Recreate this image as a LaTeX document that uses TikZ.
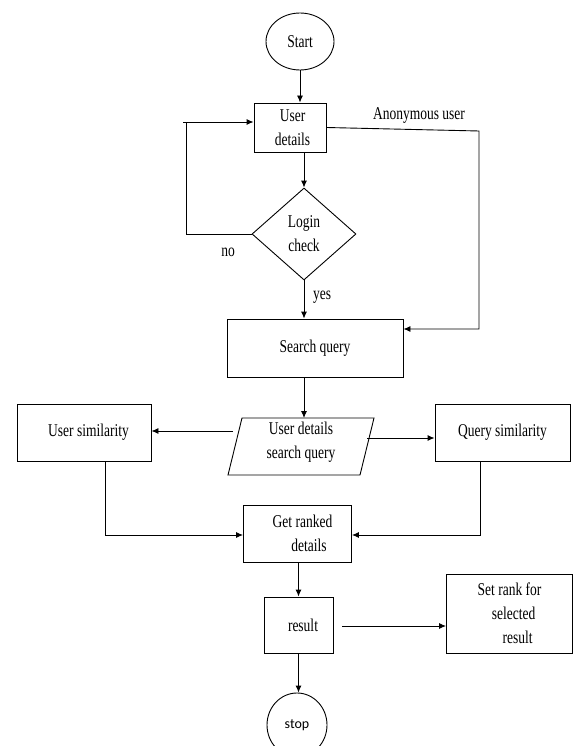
\documentclass[tikz,border=0pt]{standalone}
\usepackage{fontspec}
\setmainfont[FakeStretch=0.75]{Liberation Serif}
\newfontfamily\stopfont{Carlito}
\usetikzlibrary{arrows.meta,shapes.geometric}
\begin{document}
\begin{tikzpicture}[x=1pt,y=-1pt,
  every node/.style={font=\fontsize{18}{24}\selectfont},
  box/.style={draw, rectangle, line width=0.9pt, inner sep=0pt, align=center},
  oval/.style={draw, ellipse, line width=0.9pt, inner sep=0pt},
  line/.style={line width=0.9pt},
  arr/.style={line width=0.9pt, -{Latex[length=7pt,width=6pt]}}]
\useasboundingbox (0,0) rectangle (574,746);

% nodes
\node[oval, minimum width=68, minimum height=57] (start) at (300,41.5) {Start};
\node[box, minimum width=72, minimum height=49] (ud) at (290,127.5) {\hspace*{5pt}User\\\hspace*{5pt}details};
\node[draw, diamond, minimum width=104, minimum height=92, inner sep=0pt, line width=0.9pt, align=center] (login) at (304,234) {Login\\check};
\node[box, minimum width=176, minimum height=58] (search) at (315,348) {Search query};

\coordinate (p1) at (242,418);
\coordinate (p2) at (374,418);
\coordinate (p3) at (360,475);
\coordinate (p4) at (228,475);
\draw[line] (p1) -- (p2) -- (p3) -- (p4) -- cycle;
\node[align=center, inner sep=0pt] (par) at (301,442.5) {User details\\search query};

\node[box, minimum width=134, minimum height=57] (usim) at (84,432.5) {\hspace*{9pt}User similarity};
\node[box, minimum width=135, minimum height=57] (qsim) at (502.5,432.5) {Query similarity};
\node[box, minimum width=108, minimum height=57] (gr) at (297.5,533.5) {\hspace*{10pt}Get ranked\\\hspace*{23pt}details};
\node[box, minimum width=69, minimum height=56] (res) at (298.5,625) {\hspace*{9pt}result};
\node[box, minimum width=126, minimum height=79] (sr) at (509.5,613.5) {Set rank for\\\hspace*{8pt}selected\\\hspace*{16pt}result};
\node[oval, minimum width=60, minimum height=64, font=\stopfont\fontsize{14}{16}\selectfont] (stop) at (297,725) {\raisebox{1pt}{stop}};

% labels
\node (anon) at (419,116) {Anonymous user};
\node (no) at (228,252) {no};
\node (yes) at (322,297) {yes};

% connectors
\draw[arr] (start.south) -- (start.south |- ud.north);
\draw[arr] (login.north |- ud.south) -- (login.north);
\coordinate (lp) at (186,122);
\coordinate (lpo) at (183,122);
\draw[line] (login.west) -| (lp);
\draw[arr] (lpo) -- (lpo -| ud.west);
\draw[arr] (login.south) -- (login.south |- search.north);
\coordinate (ac) at (479,131);
\coordinate (ab) at (479,329);
\draw[arr] (ud.east) -- (ac) -- (ab) -- (ab -| search.east);
\draw[arr] (login.south |- search.south) -- (login.south |- p1);
\coordinate (pl) at (233,431);
\coordinate (pr) at (367,438);
\draw[arr] (pl) -- (pl -| usim.east);
\draw[arr] (pr) -- (pr -| qsim.west);
\coordinate (ul) at (105,535);
\coordinate (ql) at (480,535);
\draw[arr] (usim.south -| ul) -- (ul) -- (ul -| gr.west);
\draw[arr] (qsim.south -| ql) -- (ql) -- (ql -| gr.east);
\draw[arr] (res.north |- gr.south) -- (res.north);
\coordinate (rs) at (342,626);
\draw[arr] (rs) -- (rs -| sr.west);
\draw[arr] (res.south) -- (res.south |- stop.north);
\end{tikzpicture}
\end{document}
